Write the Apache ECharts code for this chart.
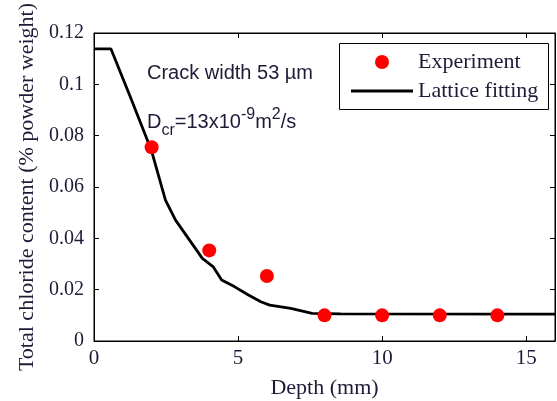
<!DOCTYPE html>
<html>
<head>
<meta charset="utf-8">
<script src="https://cdn.jsdelivr.net/npm/echarts@6/dist/echarts.min.js"></script>
<style>
html,body{margin:0;padding:0;background:#fff;}
#main{width:557px;height:401px;}
</style>
</head>
<body>
<div id="main"></div>
<script>
// measured points
var expDepth = [2, 4, 6, 8, 10, 12, 14];
var expChloride = [0.0755, 0.0353, 0.0253, 0.0100, 0.0100, 0.0100, 0.0100];

// lattice fitting curve
var fitDepth = [0, 0.59, 1.3, 2.0, 2.48, 2.83, 3.76, 4.13, 4.43, 4.87, 5.36, 5.79, 6.1, 6.83, 7.57, 8.56, 16];
var fitChloride = [0.1138, 0.1138, 0.094, 0.074, 0.0549, 0.0471, 0.0322, 0.029, 0.0238, 0.0212, 0.0179, 0.0153, 0.014, 0.0127, 0.0108, 0.0106, 0.0105];

var serif = 'Liberation Serif';
var sans = '"Liberation Sans"';
var txtColor = '#1c1c38';

var chart = echarts.init(document.getElementById('main'));

var expData = expDepth.map(function (d, i) { return [d, expChloride[i]]; });
var fitData = fitDepth.map(function (d, i) { return [d, fitChloride[i]]; });

// lay out D_cr=13x10^-9 m^2/s piece by piece
var ctx = document.createElement('canvas').getContext('2d');
var pieces = [
    ['D', 20, 0], ['cr', 16, 7], ['=13x10', 20, 0], ['-9', 16, -9],
    ['m', 20, 0], ['2', 16, -9], ['/s', 20, 0]
];
var dcrTexts = [];
var px = 147, baseY = 129;
pieces.forEach(function (p) {
    var font = p[1] + 'px ' + sans;
    ctx.font = font;
    var w = ctx.measureText(p[0]).width;
    dcrTexts.push({
        type: 'text', x: px, y: baseY + p[2] - p[1] * 0.35,
        style: { text: p[0], font: font, fill: txtColor, verticalAlign: 'middle', align: 'left' }
    });
    px += w;
});

// circle centred in a 62x14 box so the legend keeps it in the middle
var dotIcon = 'path://M0,7 M62,7 M38,7 A7,7 0 1 1 24,7 A7,7 0 1 1 38,7 Z';

var axisBase = {
    type: 'value',
    axisLine: { show: true, onZero: false, lineStyle: { color: '#000', width: 1 } },
    axisTick: { show: true, inside: true, length: 5, lineStyle: { color: '#000' } },
    splitLine: { show: false }
};

var option = {
    animation: false,
    backgroundColor: '#fff',
    grid: {
        left: 94, top: 33, right: 2, bottom: 60,
        outerBoundsMode: 'none', containLabel: false,
        show: true, borderColor: '#000', borderWidth: 1
    },
    legend: [{
        data: [{ name: 'Experiment', icon: dotIcon }],
        left: 351, top: 51, padding: 0,
        itemWidth: 62, itemHeight: 14,
        textStyle: { fontFamily: serif, fontSize: 22, color: txtColor }
    }, {
        data: [{ name: 'Lattice fitting', icon: 'rect' }],
        left: 351, top: 80, padding: 0,
        itemWidth: 62, itemHeight: 3,
        textStyle: { fontFamily: serif, fontSize: 22, color: txtColor }
    }],
    xAxis: [Object.assign({}, axisBase, {
        min: 0, max: 16, interval: 5,
        name: 'Depth (mm)', nameLocation: 'middle', nameGap: 36,
        nameTextStyle: { fontFamily: serif, fontSize: 22, color: txtColor },
        axisLabel: { margin: 7, showMaxLabel: false, fontFamily: serif, fontSize: 21, color: txtColor }
    }), Object.assign({}, axisBase, {
        min: 0, max: 16, interval: 5, position: 'top',
        axisLabel: { show: false }
    })],
    yAxis: [Object.assign({}, axisBase, {
        min: 0, max: 0.12, interval: 0.02,
        name: 'Total chloride content (% powder weight)', nameLocation: 'middle', nameGap: 53,
        nameTextStyle: { fontFamily: serif, fontSize: 22, color: txtColor },
        axisLabel: {
            margin: 10, fontFamily: serif, fontSize: 20, color: txtColor,
            formatter: function (v) { return String(+v.toFixed(2)); }
        }
    }), Object.assign({}, axisBase, {
        min: 0, max: 0.12, interval: 0.02, position: 'right',
        axisLabel: { show: false }
    })],
    graphic: [{
        type: 'rect', left: 339, top: 43,
        shape: { width: 209, height: 66 },
        style: { fill: 'rgba(0,0,0,0)', stroke: '#000', lineWidth: 1 },
        z: 5
    }, {
        type: 'text', x: 147, y: 80 - 7,
        style: { text: 'Crack width 53 \u00b5m', font: '20px ' + sans, fill: txtColor, verticalAlign: 'middle' }
    }].concat(dcrTexts),
    series: [{
        name: 'Lattice fitting',
        type: 'line',
        data: fitData,
        showSymbol: false,
        color: '#000',
        lineStyle: { color: '#000', width: 2.8 },
        z: 2
    }, {
        name: 'Experiment',
        type: 'scatter',
        data: expData,
        symbolSize: 14,
        color: '#ff0000',
        itemStyle: { color: '#ff0000', opacity: 1 },
        z: 3
    }]
};

chart.setOption(option);
</script>
</body>
</html>
